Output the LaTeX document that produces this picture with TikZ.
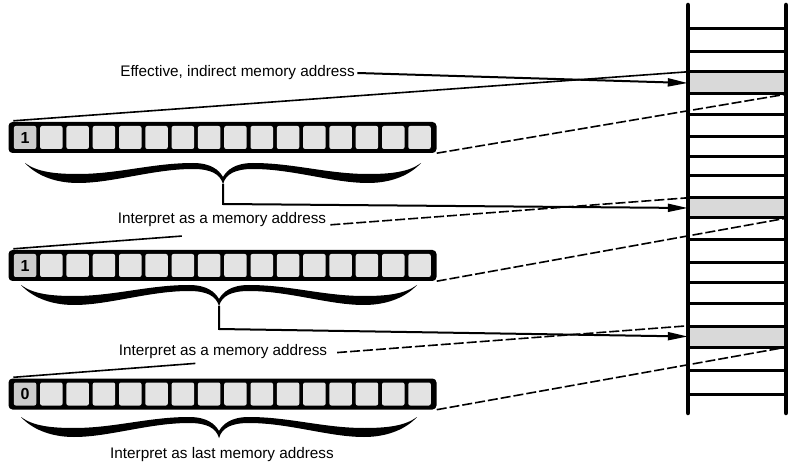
\documentclass[tikz,border=0pt]{standalone}
\usepackage{fontspec}
\setmainfont{Liberation Sans}
\usetikzlibrary{arrows.meta,calc}
\pgfdeclarelayer{bg}
\pgfsetlayers{bg,main}
\newcommand\myregister[3]{%
  \node[reg] (#1) at (222.5,#2) {};
  \node[firstcell] (#1c0) at ($(#1.west)+(16.75,0)$) {#3};
  \foreach \i in {1,...,15} \node[regcell] (#1c\i) at ($(#1.west)+({16.75+26.3*\i},0)$) {};
}
\begin{document}
\begin{tikzpicture}[x=1pt,y=-1pt,
  lbl/.style={font=\fontsize{15.3}{18}\selectfont, fill=white, inner sep=2.5pt},
  reg/.style={fill=black, rounded corners=4pt, minimum width=428pt, minimum height=31pt, inner sep=0pt},
  regcell/.style={fill=gray!22, rounded corners=2pt, minimum width=22.5pt, minimum height=23pt, inner sep=0pt},
  firstcell/.style={regcell, fill=gray!40, font=\fontsize{16}{16}\selectfont\bfseries},
  memcell/.style={fill=gray!30, minimum width=98pt, inner sep=0pt},
  fan/.style={line width=1.6pt},
  fandash/.style={line width=1.6pt, dash pattern=on 10pt off 3pt},
  arrowline/.style={line width=2pt, -{Triangle[length=20pt,width=8pt]}},
  rail/.style={line width=4.5pt, line cap=round},
  rung/.style={line width=3pt},
  curlybrace/.pic={
    \foreach \s in {1,-1}{
    \begin{scope}[xscale=\s]
    \fill (0,0) .. controls (3,-10) and (12,-15) .. (30,-15)
      .. controls (70,-15) and (110,-1) .. (145,-1)
      .. controls (170,-1) and (188,-10) .. (198,-21)
      .. controls (186,-12) and (168,-10) .. (145,-10)
      .. controls (105,-10) and (70,-21) .. (30,-21)
      .. controls (12,-21) and (4,-14) .. (0,-7) -- cycle;
    \end{scope}}
  }
]
\useasboundingbox (0,0) rectangle (795,470);

% labels
\node[lbl] (eff) at (237.5,73) {Effective, indirect memory address};
\node[lbl] (l1) at (222,220) {Interpret as a memory address};
\node[lbl] (l2) at (223,352) {Interpret as a memory address};
\node[lbl] (l3) at (222,455) {Interpret as last memory address};

% registers
\myregister{r1}{137.5}{1}
\myregister{r2}{265.5}{1}
\myregister{r3}{394}{0}

% braces
\coordinate (b1) at (223,184);
\coordinate (b2) at (219,306);
\coordinate (b3) at (219,438);
\pic at (b1) {curlybrace};
\pic at (b2) {curlybrace};
\pic at (b3) {curlybrace};

% memory cells
\node[memcell, minimum height=22pt] (c2) at (737,83) {};
\node[memcell, minimum height=20pt] (c8) at (737,208) {};
\node[memcell, minimum height=21pt] (c14) at (737,336.5) {};
\foreach \y in {29,52,72,94,115,137,157,176,198,218,240,263,283,304,326,347,370,394}
  \draw[rung] (688,\y) -- (786,\y);
\coordinate (mtl) at (688,5);
\coordinate (mbl) at (688,413);
\coordinate (mtr) at (786,5);
\coordinate (mbr) at (786,413);
\draw[rail] (mtl) -- (mbl);
\draw[rail] (mtr) -- (mbr);

% connectors
\coordinate (r1s) at ($(r1.north west)+(5,-1)$);
\coordinate (r2s) at ($(r2.north west)+(5,-1)$);
\coordinate (r3s) at ($(r3.north west)+(5,-1)$);
\begin{pgfonlayer}{bg}
\draw[fan] (r1s) -- (c2.north west);
\draw[fandash] (r1.south east) -- (c2.south east);
\draw[arrowline] (eff.east) -- (c2.west);
\draw[arrowline] (b1) -- ++(0,20) -- (c8.west);
\draw[fan] (r2s) -- ($(r2s)!0.25!(c8.north west)$);
\draw[fandash] ($(r2s)!0.47!(c8.north west)$) -- (c8.north west);
\draw[fandash] (r2.south east) -- (c8.south east);
\draw[arrowline] (b2) -- ++(0,23) -- (c14.west);
\draw[fan] (r3s) -- ($(r3s)!0.27!(c14.north west)$);
\draw[fandash] ($(r3s)!0.48!(c14.north west)$) -- (c14.north west);
\draw[fandash] (r3.south east) -- (c14.south east);
\end{pgfonlayer}
\end{tikzpicture}
\end{document}
